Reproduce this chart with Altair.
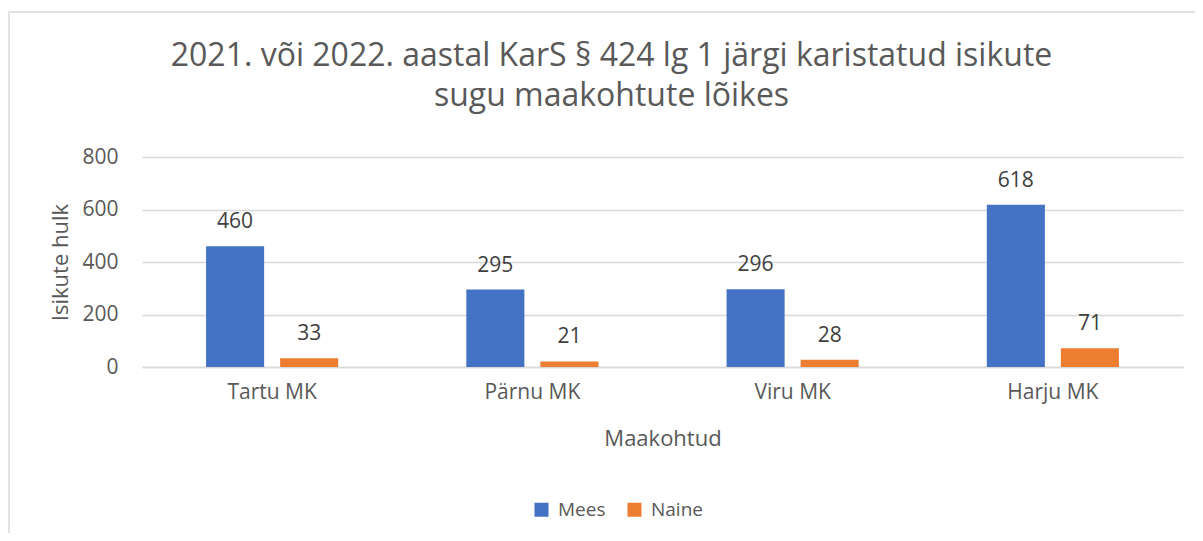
import altair as alt
import pandas as pd

courts = ["Tartu MK", "Pärnu MK", "Viru MK", "Harju MK"]
series = ["Mees", "Naine"]
mees = [460, 295, 296, 618]
naine = [33, 21, 28, 71]
colors = ["#4472C4", "#ED7D31"]
y_ticks = [0, 200, 400, 600, 800]
title_lines = ["2021. või 2022. aastal KarS § 424 lg 1 järgi karistatud isikute",
               "sugu maakohtute lõikes"]

rows = []
for c, m, n in zip(courts, mees, naine):
    rows.append({"court": c, "sex": "Mees", "value": m})
    rows.append({"court": c, "sex": "Naine", "value": n})
df = pd.DataFrame(rows)

FONT = "Open Sans"
GRAY = "#595959"

x_enc = alt.X("court:N", sort=courts,
              scale=alt.Scale(paddingInner=0, paddingOuter=0),
              axis=alt.Axis(title="Maakohtud", labelAngle=0, labelFontSize=21,
                            labelColor=GRAY, labelFont=FONT, labelPadding=14,
                            ticks=False, domainColor="#D9D9D9", domainWidth=1.5,
                            titleFontSize=22, titleColor=GRAY, titleFont=FONT,
                            titleFontWeight="normal", titleBaseline="alphabetic",
                            titleY=78))
xo_enc = alt.XOffset("sex:N", sort=series,
                     scale=alt.Scale(paddingInner=0.216, paddingOuter=0.865))
y_enc = alt.Y("value:Q",
              scale=alt.Scale(domain=[0, 800], nice=False),
              axis=alt.Axis(title="Isikute hulk", values=y_ticks, labelFontSize=21,
                            labelColor=GRAY, labelFont=FONT, labelPadding=24,
                            ticks=False, domain=False, gridColor="#D9D9D9",
                            gridWidth=1.5, titleFontSize=22, titleColor=GRAY,
                            titleFont=FONT, titleFontWeight="normal",
                            titleX=-70, titleY=105))

bars = alt.Chart(df).mark_bar().encode(
    x=x_enc, xOffset=xo_enc, y=y_enc,
    color=alt.Color("sex:N", sort=series,
                    scale=alt.Scale(domain=series, range=colors),
                    legend=alt.Legend(title=None, orient="none", direction="horizontal",
                                      legendX=390, legendY=343, symbolType="square",
                                      symbolSize=196, symbolStrokeWidth=0,
                                      labelFontSize=19, labelColor=GRAY, labelFont=FONT,
                                      labelOffset=7, columnPadding=19, padding=0)),
)

labels = alt.Chart(df).mark_text(baseline="alphabetic", dy=-18, fontSize=21,
                                 font=FONT, color="#404040").encode(
    x=alt.X("court:N", sort=courts), xOffset=alt.XOffset("sex:N", sort=series),
    y="value:Q", text="value:Q")

frame = alt.Chart(pd.DataFrame({"k": [0]})).mark_rect(
    fill=None, stroke="#D9D9D9", strokeWidth=1.5).encode(
    x=alt.value(-133), x2=alt.value(1200), y=alt.value(-145), y2=alt.value(600))

chart = alt.layer(frame, bars, labels).properties(
    width=1041, height=210,
    autosize=alt.AutoSizeParams(type="none"),
    padding={"left": 134, "top": 149, "right": 12, "bottom": 166},
    title=alt.TitleParams(text=title_lines, fontSize=32, font=FONT, color=GRAY,
                          fontWeight="normal", lineHeight=40, anchor="middle",
                          dx=-51, dy=132, offset=30),
).configure_view(stroke=None)

chart.save("out.html", embed_options={"renderer": "svg", "actions": False})
